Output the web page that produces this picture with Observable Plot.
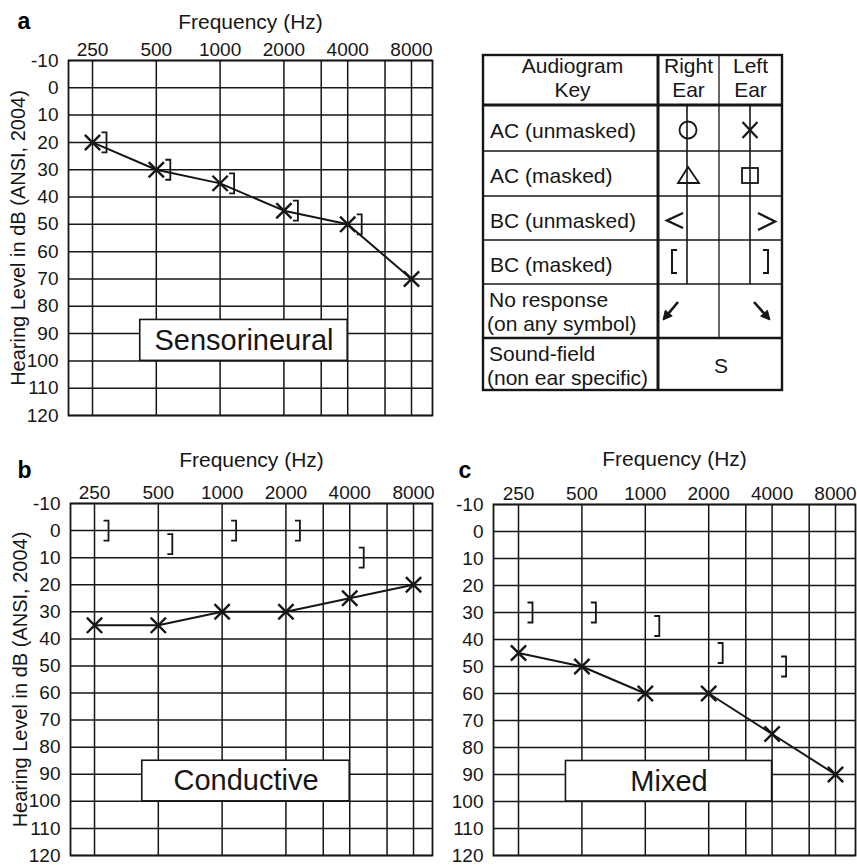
<!DOCTYPE html>
<html><head><meta charset="utf-8">
<script src="https://cdn.jsdelivr.net/npm/d3@7"></script>
<script src="https://cdn.jsdelivr.net/npm/@observablehq/plot@0.6"></script>
<style>
body{margin:0;background:#fff;}
#wrap{position:relative;width:857px;height:865px;overflow:hidden;background:#fff;font-family:"Liberation Sans",Arial,Helvetica,sans-serif;}
.panel{position:absolute;}
.panel svg{background:transparent !important;overflow:visible;}
</style></head><body><div id="wrap"></div>
<script>
// ---------- data ----------
const freqTicks = [250, 500, 1000, 2000, 4000, 8000];
const gridFreqs = [250, 500, 1000, 2000, 3000, 4000, 6000, 8000];
const dbTicks = [-10, 0, 10, 20, 30, 40, 50, 60, 70, 80, 90, 100, 110, 120];
const bcFreqs = [250, 500, 1000, 2000, 4000];

const acSensorineural = [20, 30, 35, 45, 50, 70];
const bcSensorineural = [20, 30, 35, 45, 50];
const acConductive = [35, 35, 30, 30, 25, 20];
const bcConductive = [0, 5, 0, 0, 10];
const acMixed = [45, 50, 60, 60, 75, 90];
const bcMixed = [30, 30, 35, 45, 50];

const panelLetters = ["a", "b", "c"];
const panelLabels = ["Sensorineural", "Conductive", "Mixed"];
const labelBoxFreq = [420, 4000];
const labelBoxDb = [85, 100];

const keyHeader = [["Audiogram", "Key"], ["Right", "Ear"], ["Left", "Ear"]];
const keyLabels = [["AC (unmasked)"], ["AC (masked)"], ["BC (unmasked)"], ["BC (masked)"],
                   ["No response", "(on any symbol)"], ["Sound-field", "(non ear specific)"]];
const soundFieldSymbol = "S";

// ---------- helpers ----------
const INK = "#161616";
const FONT = "Liberation Sans, Arial, Helvetica, sans-serif";
const bracketRight = {
  draw(ctx, size) {
    const r = Math.sqrt(size / Math.PI);
    const w = r * 0.5;
    ctx.moveTo(-w, -r); ctx.lineTo(0, -r); ctx.lineTo(0, r); ctx.lineTo(-w, r);
  }
};

function audiogram(cfg) {
  const acData = freqTicks.map((f, i) => ({f, db: cfg.ac[i]}));
  const bcData = bcFreqs.map((f, i) => ({f, db: cfg.bc[i]}));
  const box = [{x1: labelBoxFreq[0], x2: labelBoxFreq[1], y1: labelBoxDb[0], y2: labelBoxDb[1], label: cfg.label}];
  const marks = [
    Plot.gridX(gridFreqs, {stroke: INK, strokeOpacity: 1, strokeWidth: 1.5}),
    Plot.gridY(dbTicks, {stroke: INK, strokeOpacity: 1, strokeWidth: 1.5}),
    Plot.frame({stroke: INK, strokeWidth: 1.8}),
    Plot.text(freqTicks, {x: d => d, text: d => String(d), frameAnchor: "top", dy: -5, lineAnchor: "bottom", fontSize: 19, fill: INK}),
    Plot.axisY(dbTicks, {anchor: "left", tickSize: 0, tickPadding: 10, tickFormat: d => String(d), fontSize: 19, label: null}),
    Plot.rect(box, {x1: "x1", x2: "x2", y1: "y1", y2: "y2", fill: "white", stroke: INK, strokeWidth: 1.6}),
    Plot.text(box, {x: d => Math.sqrt(d.x1 * d.x2), y: d => (d.y1 + d.y2) / 2, text: "label", fontSize: 29, fill: INK, lineAnchor: "middle"}),
    Plot.line(acData, {x: "f", y: "db", stroke: INK, strokeWidth: 2}),
    Plot.dot(acData, {x: "f", y: "db", symbol: "times", r: 7, stroke: INK, strokeWidth: 2.4}),
    Plot.dot(bcData, {x: "f", y: "db", symbol: bracketRight, r: 10, fill: "none", stroke: INK, strokeWidth: 1.8, dx: 14}),
    Plot.text(["Frequency (Hz)"], {text: d => d, frameAnchor: "top", dy: cfg.titleDy, lineAnchor: "bottom", fontSize: 21, fill: INK}),
    Plot.text([cfg.letter], {text: d => d, frameAnchor: "top-left", dx: cfg.letterDx, dy: cfg.letterDy, lineAnchor: "bottom", textAnchor: "start", fontSize: 23, fontWeight: "bold", fill: "#000"})
  ];
  if (cfg.yLabel) {
    marks.push(Plot.text(["Hearing Level in dB (ANSI, 2004)"], {text: d => d, frameAnchor: "left", rotate: -90, dx: cfg.yLabelDx, textAnchor: "middle", lineAnchor: "middle", fontSize: 20, fill: INK}));
  }
  const chart = Plot.plot({
    width: cfg.width, height: cfg.height,
    marginTop: cfg.margin[0], marginRight: cfg.margin[1], marginBottom: cfg.margin[2], marginLeft: cfg.margin[3],
    style: {fontFamily: FONT, fontSize: "19px", background: "transparent", color: INK},
    x: {type: "log", domain: cfg.xDomain, axis: null},
    y: {domain: [-10, 120], reverse: true},
    marks
  });
  const div = document.createElement("div");
  div.className = "panel";
  div.style.left = cfg.left + "px";
  div.style.top = cfg.top + "px";
  div.appendChild(chart);
  document.getElementById("wrap").appendChild(div);
}

audiogram({ac: acSensorineural, bc: bcSensorineural, label: panelLabels[0], letter: panelLetters[0], yLabel: true,
  left: 0, top: 0, width: 440, height: 430, margin: [60, 8, 15, 68], xDomain: [192.6, 10050],
  titleDy: -32, letterDx: -51, letterDy: -32, yLabelDx: -50});
audiogram({ac: acConductive, bc: bcConductive, label: panelLabels[1], letter: panelLetters[1], yLabel: true,
  left: 0, top: 440, width: 437, height: 425, margin: [63, 5, 10, 70], xDomain: [192.6, 9830],
  titleDy: -37, letterDx: -53, letterDy: -26, yLabelDx: -50});
audiogram({ac: acMixed, bc: bcMixed, label: panelLabels[2], letter: panelLetters[2], yLabel: false,
  left: 437, top: 440, width: 420, height: 425, margin: [64, 2, 10, 56], xDomain: [190.2, 9956],
  titleDy: -39, letterDx: -35, letterDy: -27});

// ---------- audiogram key (legend table) ----------
(function drawKey() {
  const L = 483, R = 782, T = 55, B = 390;
  const c1 = 658, c2 = 719;
  const rowY = [105, 151, 196, 240, 284, 338, 390];
  const rightX = 687, leftX = 750;
  const svg = d3.create("svg").attr("width", 330).attr("height", 360)
    .attr("viewBox", "470 40 330 360")
    .style("position", "absolute").style("left", "470px").style("top", "40px")
    .style("font-family", FONT).style("font-size", "21px");
  const g = svg.append("g").attr("stroke", INK).attr("fill", "none");
  for (let i = 1; i < rowY.length - 1; i++) {
    const w = (i === 5) ? 2.6 : 1.5;
    g.append("line").attr("x1", L).attr("x2", R).attr("y1", rowY[i]).attr("y2", rowY[i]).attr("stroke-width", w);
  }
  g.append("line").attr("x1", L).attr("x2", R).attr("y1", rowY[0]).attr("y2", rowY[0]).attr("stroke-width", 3);
  g.append("line").attr("x1", c1).attr("x2", c1).attr("y1", T).attr("y2", B).attr("stroke-width", 3);
  g.append("line").attr("x1", c2).attr("x2", c2).attr("y1", T).attr("y2", rowY[5]).attr("stroke-width", 1.3);
  g.append("rect").attr("x", L).attr("y", T).attr("width", R - L).attr("height", B - T).attr("stroke-width", 2.4);
  g.append("line").attr("x1", rightX).attr("x2", rightX).attr("y1", rowY[0]).attr("y2", rowY[4]).attr("stroke-width", 1.6);
  g.append("line").attr("x1", leftX).attr("x2", leftX).attr("y1", rowY[0]).attr("y2", rowY[4]).attr("stroke-width", 1.6);
  const sw = 1.8;
  g.append("ellipse").attr("cx", 688).attr("cy", 130).attr("rx", 8.5).attr("ry", 8.5).attr("stroke-width", sw);
  g.append("path").attr("d", "M742.5,122L757.5,138M757.5,122L742.5,138").attr("stroke-width", 2.2);
  g.append("path").attr("d", "M688,167L678,183L699,183Z").attr("stroke-width", sw);
  g.append("rect").attr("x", 742).attr("y", 168).attr("width", 16).attr("height", 15).attr("stroke-width", sw);
  g.append("path").attr("d", "M683,213L667,220.5L683,228").attr("stroke-width", 2.4);
  g.append("path").attr("d", "M758,213L775,221.5L758,230").attr("stroke-width", 2.4);
  g.append("path").attr("d", "M677,250L672,250L672,273L677,273").attr("stroke-width", 2);
  g.append("path").attr("d", "M763,250L768,250L768,273L763,273").attr("stroke-width", 2);
  function arrow(x0, y0, x1, y1) {
    const dx = x1 - x0, dy = y1 - y0, len = Math.hypot(dx, dy);
    const ux = dx / len, uy = dy / len, px = -uy, py = ux;
    const hl = 9, hw = 4.5;
    const bx = x1 - ux * hl, by = y1 - uy * hl;
    g.append("line").attr("x1", x0).attr("y1", y0).attr("x2", bx).attr("y2", by).attr("stroke-width", 2.6);
    g.append("path").attr("d", `M${x1},${y1}L${bx + px * hw},${by + py * hw}L${bx - px * hw},${by - py * hw}Z`)
      .attr("fill", INK).attr("stroke-width", 1);
  }
  arrow(678, 302, 663, 320);
  arrow(754, 302, 770, 320);
  const t = svg.append("g").attr("fill", INK);
  const hdrX = [(L + c1) / 2 + 2, (c1 + c2) / 2, (c2 + R) / 2];
  keyHeader.forEach((lines, i) => {
    t.append("text").attr("x", hdrX[i]).attr("y", 73).attr("text-anchor", "middle").text(lines[0]);
    t.append("text").attr("x", hdrX[i]).attr("y", 97).attr("text-anchor", "middle").text(lines[1]);
  });
  keyLabels.forEach((lines, i) => {
    const y0 = rowY[i], y1 = rowY[i + 1], cy = (y0 + y1) / 2;
    if (lines.length === 1) {
      t.append("text").attr("x", 490).attr("y", cy + 9.5).text(lines[0]);
    } else {
      t.append("text").attr("x", 489).attr("y", y0 + 23).text(lines[0]);
      t.append("text").attr("x", 487).attr("y", y0 + 47).text(lines[1]);
    }
  });
  t.append("text").attr("x", (c1 + R) / 2 + 1).attr("y", 373).attr("text-anchor", "middle").text(soundFieldSymbol);
  document.getElementById("wrap").appendChild(svg.node());
})();
</script>
</body></html>
